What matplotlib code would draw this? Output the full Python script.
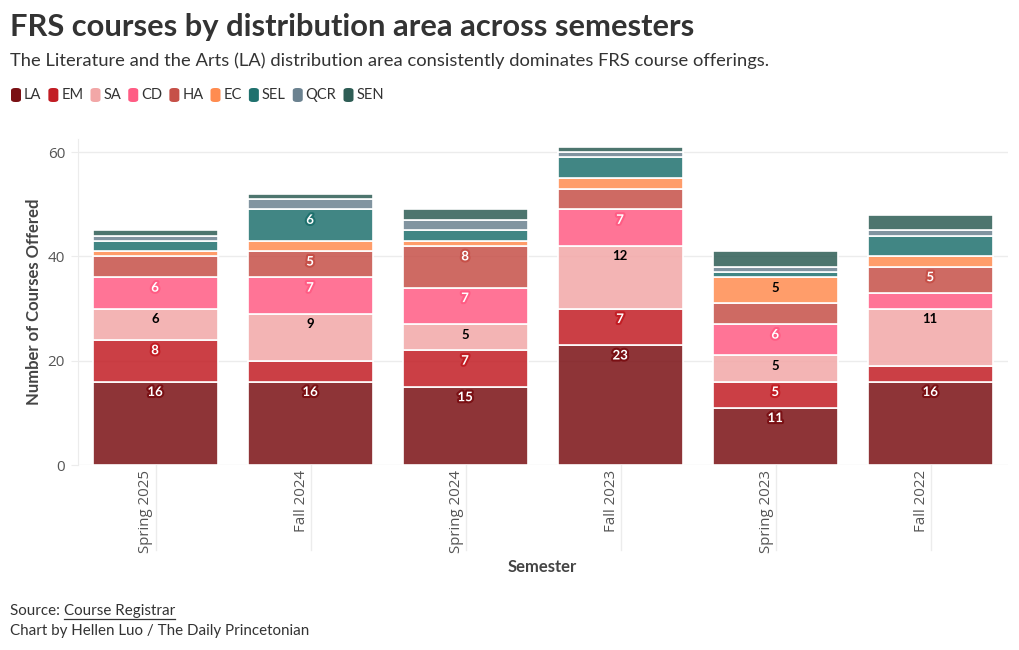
import matplotlib.pyplot as plt
import matplotlib.patheffects as pe
import matplotlib.transforms as mtransforms
from matplotlib.colors import to_rgba
from matplotlib.patches import FancyBboxPatch

# Dados
semesters = ['Spring 2025', 'Fall 2024', 'Spring 2024', 'Fall 2023', 'Spring 2023', 'Fall 2022']
areas = ['LA', 'EM', 'SA', 'CD', 'HA', 'EC', 'SEL', 'QCR', 'SEN']
la = [16, 16, 15, 23, 11, 16]
em = [8, 4, 7, 7, 5, 3]
sa = [6, 9, 5, 12, 5, 11]
cd = [6, 7, 7, 7, 6, 3]
ha = [4, 5, 8, 4, 4, 5]
ec = [1, 2, 1, 2, 5, 2]
sel = [2, 6, 2, 4, 1, 4]
qcr = [1, 2, 2, 1, 1, 1]
sen = [1, 1, 2, 1, 3, 3]
y_ticks = [0, 20, 40, 60]

series = [la, em, sa, cd, ha, ec, sel, qcr, sen]
colors = ['#7a1014', '#c21d24', '#f2a7a7', '#ff5c84', '#c65048',
          '#ff8c50', '#1f716e', '#6b8290', '#2e5d55']
label_colors = ['white', 'white', 'black', 'white', 'white',
                'black', 'white', 'white', 'white']

TXT = '#333333'
GRID = '#ececec'
FONT = 'Lato'
TICK_FONT = 'Open Sans'

fig = plt.figure(figsize=(10.2, 6.5), dpi=100)
ax = fig.add_axes([0.076, 0.2846, 0.912, 0.5015])

x = list(range(len(semesters)))
bottom = [0] * len(semesters)
for name, vals, col, tcol in zip(areas, series, colors, label_colors):
    ax.bar(x, vals, bottom=bottom, width=0.806, color=to_rgba(col, 0.85),
           edgecolor='white', linewidth=1.2, zorder=3)
    for i, v in enumerate(vals):
        top = bottom[i] + v
        if v >= 5:
            txt = ax.annotate(str(v), xy=(i, top), xytext=(0, -7.5),
                              textcoords='offset points', ha='center', va='center',
                              fontsize=9.5, fontweight='bold', color=tcol,
                              family=FONT, zorder=5)
            if tcol == 'white':
                txt.set_path_effects([pe.withStroke(linewidth=3, foreground=col)])
    bottom = [b + v for b, v in zip(bottom, vals)]

ax.set_xlim(-0.5, 5.5)
ax.set_ylim(0, 62.5)
ax.set_yticks(y_ticks)
ax.set_yticklabels([str(t) for t in y_ticks], family=TICK_FONT, fontsize=11, color='#555555')
ax.tick_params(axis='y', length=5, color=GRID, pad=4)
ax.set_xticks([])
ax.grid(axis='y', color=GRID, linewidth=1, zorder=0)
for s in ['top', 'right', 'bottom']:
    ax.spines[s].set_visible(False)
ax.spines['left'].set_color(GRID)

# Rótulos do eixo X (rotacionados, com linhas finas)
trans = mtransforms.blended_transform_factory(ax.transData, ax.transAxes)
for i, name in enumerate(semesters):
    ax.plot([i + 0.007, i + 0.007], [0, -0.26], transform=trans, color=GRID,
            linewidth=1, clip_on=False, zorder=1)
    ax.text(i - 0.01, -0.015, name, transform=trans, rotation=90, ha='right', va='top',
            family=TICK_FONT, fontsize=10.8, color='#555555')

ax.set_ylabel('Number of Courses Offered', family=FONT, fontsize=12, fontweight='bold',
              color='#444444', labelpad=4)
fig.text(0.532, 0.127, 'Semester', family=FONT, fontsize=12, fontweight='bold',
         color='#444444', ha='center', va='center')

# Título e subtítulo
fig.text(0.0098, 0.958, 'FRS courses by distribution area across semesters', family=FONT,
         fontsize=22.2, fontweight='bold', color=TXT, ha='left', va='center')
fig.text(0.0098, 0.906, 'The Literature and the Arts (LA) distribution area consistently '
         'dominates FRS course offerings.', family=FONT, fontsize=13.2, color=TXT,
         ha='left', va='center')

# Legenda manual
fig.canvas.draw()
renderer = fig.canvas.get_renderer()
W, H = fig.bbox.width, fig.bbox.height
xpos = 11
ycen = 95
for name, col in zip(areas, colors):
    patch = FancyBboxPatch((xpos / W, (H - ycen - 7) / H), 10 / W, 14 / H,
                           boxstyle='round,pad=0,rounding_size=0.004',
                           transform=fig.transFigure, facecolor=col, edgecolor='none')
    fig.patches.append(patch)
    t = fig.text((xpos + 13) / W, (H - ycen) / H, name, family=FONT, fontsize=10.5,
                 color=TXT, ha='left', va='center')
    ext = t.get_window_extent(renderer)
    xpos = ext.x1 + 7

# Rodapé
src = fig.text(0.0098, 0.06, 'Source: ', family=FONT, fontsize=10.9, color=TXT,
               ha='left', va='center')
ext = src.get_window_extent(renderer)
link = fig.text(ext.x1 / W, 0.06, 'Course Registrar', family=FONT, fontsize=10.9,
                color=TXT, ha='left', va='center')
lext = link.get_window_extent(renderer)
fig.add_artist(plt.Line2D([lext.x0 / W, lext.x1 / W], [(lext.y0 - 1) / H] * 2,
                          transform=fig.transFigure, color=TXT, linewidth=0.9))
fig.text(0.0098, 0.029, 'Chart by Hellen Luo / The Daily Princetonian', family=FONT,
         fontsize=10.9, color=TXT, ha='left', va='center')

fig.savefig('out.png', dpi=100)
